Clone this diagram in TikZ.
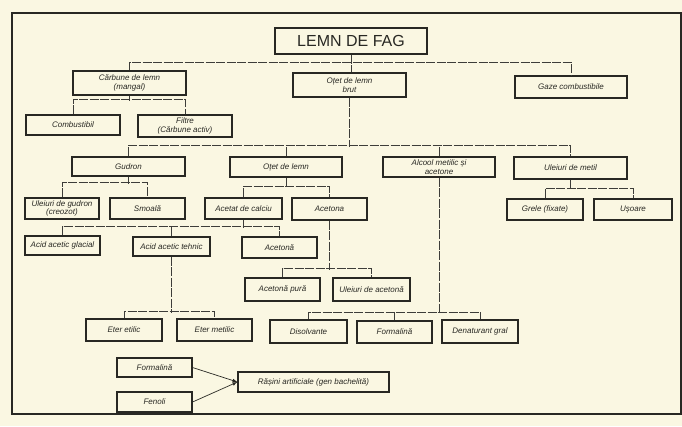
\documentclass[tikz,border=0pt]{standalone}
\usepackage{fontspec}
\setmainfont{Liberation Sans}
\definecolor{paper}{RGB}{250,247,226}
\definecolor{ink}{RGB}{40,40,35}
\begin{document}
\begin{tikzpicture}[x=1pt, y=-1pt,
    box/.style={draw=ink, line width=1.1pt, fill=paper, inner sep=1pt, align=center, text=ink,
        font=\itshape\fontsize{8}{8.5}\selectfont},
    link/.style={draw=ink!90, line width=0.7pt, dash pattern=on 9pt off 1.5pt}
]
    \fill[paper] (0,0) rectangle (682,426);
    \useasboundingbox (0,0) rectangle (682,426);
    \draw[ink, line width=1.8pt] (12,13) rectangle (681,414);

    \node[box, minimum width=152, minimum height=26, font=\fontsize{16}{16}\selectfont] at (351,41) (lemn) {LEMN DE FAG};

    \node[box, minimum width=113, minimum height=24] at (129.5,83) (carb) {Cărbune de lemn\\(mangal)};
    \node[box, minimum width=113, minimum height=24] at (349.5,85) (otetb) {Oțet de lemn\\brut};
    \node[box, minimum width=112, minimum height=22] at (571,87) (gaze) {Gaze combustibile};

    \node[box, minimum width=94, minimum height=20] at (73,125) (comb) {Combustibil};
    \node[box, minimum width=94, minimum height=22] at (185,126) (filtre) {Filtre\\(Cărbune activ)};

    \node[box, minimum width=113, minimum height=19] at (128.5,166.5) (gudron) {Gudron};
    \node[box, minimum width=112, minimum height=20] at (286,167) (otet) {Oțet de lemn};
    \node[box, minimum width=112, minimum height=20] at (439,167) (alcool) {Alcool metilic și\\acetone};
    \node[box, minimum width=113, minimum height=22] at (570.5,168) (ulm) {Uleiuri de metil};

    \node[box, minimum width=74, minimum height=21] at (62,208.5) (ulg) {Uleiuri de gudron\\(creozot)};
    \node[box, minimum width=75, minimum height=21] at (147.5,208.5) (smoala) {Smoală};
    \node[box, minimum width=77, minimum height=21] at (243.5,208.5) (acetat) {Acetat de calciu};
    \node[box, minimum width=75, minimum height=22] at (329.5,209) (acetona) {Acetona};
    \node[box, minimum width=76, minimum height=21] at (545,209.5) (grele) {Grele (fixate)};
    \node[box, minimum width=78, minimum height=21] at (633,209.5) (usoare) {Ușoare};

    \node[box, minimum width=75, minimum height=19] at (62.5,245.5) (acglac) {Acid acetic glacial};
    \node[box, minimum width=77, minimum height=19] at (171.5,246.5) (acteh) {Acid acetic tehnic};
    \node[box, minimum width=75, minimum height=21] at (279.5,247.5) (acetonab) {Acetonă};

    \node[box, minimum width=75, minimum height=23] at (282.5,289.5) (acpura) {Acetonă pură};
    \node[box, minimum width=77, minimum height=23] at (371.5,289.5) (ulac) {Uleiuri de acetonă};

    \node[box, minimum width=76, minimum height=22] at (124,330) (eteret) {Eter etilic};
    \node[box, minimum width=75, minimum height=22] at (214.5,330) (etermet) {Eter metilic};
    \node[box, minimum width=77, minimum height=23] at (308.5,331.5) (dizolv) {Disolvante};
    \node[box, minimum width=75, minimum height=22] at (394.5,332) (formal) {Formalină};
    \node[box, minimum width=76, minimum height=23] at (480,331.5) (denat) {Denaturant gral};

    \node[box, minimum width=75, minimum height=19] at (154.5,367.5) (formalb) {Formalină};
    \node[box, minimum width=75, minimum height=20] at (154.5,402) (fenoli) {Fenoli};
    \node[box, minimum width=151, minimum height=20] at (313.5,382) (rasini) {Rășini artificiale (gen bachelită)};

    % first level
    \draw[link] (lemn.south) -- (lemn.south |- otetb.north);
    \draw[link] (carb.north) -- ++(0,-8) -| (gaze.north);
    \draw[link] (carb.south) -- ++(0,5);
    \draw[link] (comb.north) -- ++(0,-15) -| (filtre.north);

    % otet de lemn brut
    \draw[link] (otetb.south) -- ++(0,49);
    \draw[link] (gudron.north) -- ++(0,-11) -| (ulm.north);
    \draw[link] (otet.north) -- ++(0,-11);
    \draw[link] (alcool.north) -- ++(0,-11);

    \draw[link] (gudron.south) -- ++(0,7);
    \draw[link] (ulg.north) -- ++(0,-15) -| (smoala.north);
    \draw[link] (otet.south) -- ++(0,10);
    \draw[link] (acetat.north) -- ++(0,-11) -| (acetona.north);
    \draw[link] (ulm.south) -- ++(0,10);
    \draw[link] (grele.north) -- ++(0,-10) -| (usoare.north);

    \draw[link] (acetat.south) -- ++(0,8);
    \draw[link] (acglac.north) -- ++(0,-9) -| (acetonab.north);
    \draw[link] (acteh.north) -- ++(0,-10);
    \draw[link] (acetona.south) -- ++(0,49);
    \draw[link] (acpura.north) -- ++(0,-9) -| (ulac.north);

    \draw[link] (acteh.south) -- ++(0,56);
    \draw[link] (eteret.north) -- ++(0,-7) -| (etermet.north);
    \draw[link] (alcool.south) -- ++(0,136);
    \draw[link] (dizolv.north) -- ++(0,-7) -| (denat.north);
    \draw[link] (formal.north) -- ++(0,-8);

    % rasini
    \draw[-latex, ink, line width=0.7pt] (formalb.east) -- (rasini.west);
    \draw[-latex, ink, line width=0.7pt] (fenoli.east) -- (rasini.west);
\end{tikzpicture}
\end{document}
